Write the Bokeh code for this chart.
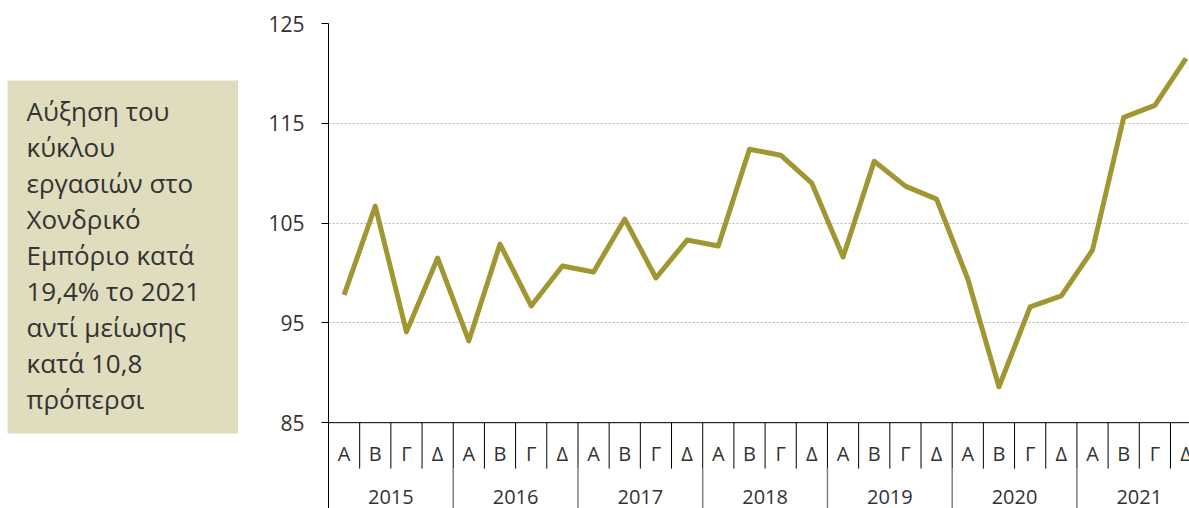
from bokeh.plotting import figure
from bokeh.layouts import row
from bokeh.models import Range1d, FixedTicker, Span
from bokeh.core.properties import value
from bokeh.embed import file_html
from bokeh.resources import INLINE

years = ["2015", "2016", "2017", "2018", "2019", "2020", "2021"]
quarters = ["Α", "Β", "Γ", "Δ"]
values = [97.8, 106.7, 94.1, 101.5,
          93.2, 102.9, 96.7, 100.7,
          100.1, 105.4, 99.5, 103.3,
          102.7, 112.4, 111.8, 109.0,
          101.6, 111.2, 108.7, 107.4,
          99.4, 88.6, 96.6, 97.7,
          102.3, 115.6, 116.8, 121.5]
y_ticks = [85, 95, 105, 115, 125]
box_lines = ["Αύξηση του", "κύκλου", "εργασιών στο", "Χονδρικό",
             "Εμπόριο κατά", "19,4% το 2021", "αντί μείωσης", "κατά 10,8",
             "πρόπερσι"]

FONT = "Open Sans"
TXT = "#333333"
LINE_COLOR = "#a09632"

# ---- left annotation box (frame gets aligned with the chart frame: 23..508 px) ----
pb = figure(width=238, height=508, x_range=Range1d(0, 238), y_range=Range1d(508, 23),
            toolbar_location=None, output_backend="svg", min_border=0, title_location=None,
            x_axis_location=None, y_axis_location=None, outline_line_color=None)
pb.xgrid.visible = False
pb.ygrid.visible = False
pb.quad(left=[7], right=[238], top=[80], bottom=[433], fill_color="#e0dcbe", line_color=None)
pb.text(x=[26] * len(box_lines), y=[110 + i * 36.1 for i in range(len(box_lines))],
        text=box_lines, text_font=value(FONT), text_font_size="26px",
        text_color=TXT, text_align="left", text_baseline="alphabetic")

# ---- main chart ----
n = len(values)
idx = list(range(n))
p = figure(width=951, height=508, x_range=Range1d(-0.5, 27.11), y_range=Range1d(76.40, 125.0),
           toolbar_location=None, output_backend="svg", x_axis_location=None,
           min_border_left=90, min_border_right=0, min_border_top=23, min_border_bottom=0,
           outline_line_color=None)
p.xgrid.visible = False
p.ygrid.grid_line_color = "#b4b4b4"
p.ygrid.grid_line_dash = "2 2"
p.ygrid.grid_line_width = 1
ax = p.yaxis[0]
ax.ticker = FixedTicker(ticks=y_ticks)
ax.minor_tick_line_color = None
ax.major_tick_in = 0
ax.major_tick_out = 7
ax.major_tick_line_color = "black"
ax.axis_line_color = "black"
ax.major_label_text_font = FONT
ax.major_label_text_font_size = "21px"
ax.major_label_text_color = TXT
ax.major_label_standoff = 17

p.add_layout(Span(location=85, dimension="width", line_color="black", line_width=1))

# quarter separators
qsep = [i + 0.5 for i in range(n - 1)]
p.segment(x0=qsep, y0=[85] * len(qsep), x1=qsep, y1=[80.4] * len(qsep),
          line_color="black", line_width=1)
# year separators
ysep = [4 * k - 0.5 for k in range(1, len(years))]
p.segment(x0=ysep, y0=[80.4] * len(ysep), x1=ysep, y1=[76.0] * len(ysep),
          line_color="#808080", line_width=1.5)

# quarter labels
qlab = [quarters[i % 4] for i in idx]
p.text(x=idx, y=[81.95] * n, text=qlab, text_font=value(FONT), text_font_size="20px",
       text_color=TXT, text_align="center", text_baseline="middle")
# year labels
yx = [4 * k + 1.5 for k in range(len(years))]
p.text(x=yx, y=[77.6] * len(years), text=years, text_font=value(FONT), text_font_size="20px",
       text_color=TXT, text_align="center", text_baseline="middle")

p.line(idx, values, line_color=LINE_COLOR, line_width=5, line_join="round")

layout = row(pb, p, spacing=0)
open("out.html", "w").write(file_html(layout, INLINE))
